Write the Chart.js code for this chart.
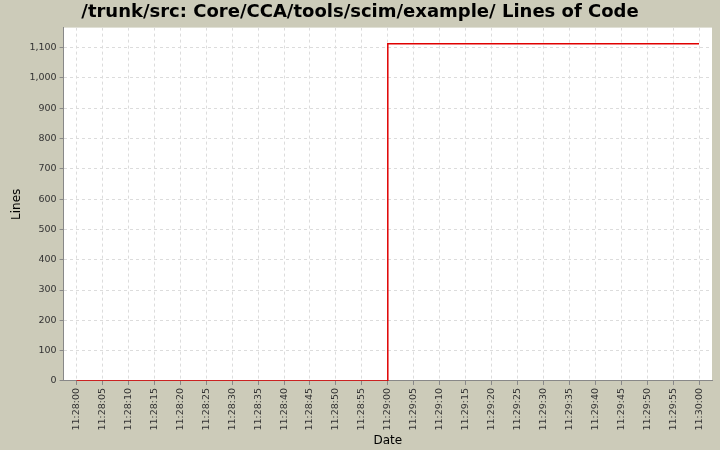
<!DOCTYPE html>
<html>
<head>
<meta charset="utf-8">
<script src="https://cdn.jsdelivr.net/npm/chart.js@4"></script>
<style>
  html, body { margin: 0; padding: 0; background: #cccbb9; }
  #wrap { position: relative; width: 720px; height: 450px; }
</style>
</head>
<body>
<div id="wrap"><canvas id="locChart" width="720" height="450"></canvas></div>
<script>
// seconds after 11:28:00
const times = [0, 60, 60, 120];
const lines = [0, 0, 1113, 1113];
const tickSeconds = [0, 5, 10, 15, 20, 25, 30, 35, 40, 45, 50, 55, 60, 65, 70, 75, 80, 85, 90, 95, 100, 105, 110, 115, 120];

function fmtTime(s) {
    const m = 28 + Math.floor(s / 60);
    const sec = s % 60;
    return "11:" + m + ":" + String(sec).padStart(2, "0");
}

const plotBg = {
    id: "plotBg",
    beforeDraw(chart) {
        const a = chart.chartArea, c = chart.ctx;
        c.save();
        c.fillStyle = "#ffffff";
        c.fillRect(a.left, a.top, a.right - a.left, a.bottom - a.top);
        c.restore();
    }
};

new Chart(document.getElementById("locChart").getContext("2d"), {
    type: "line",
    data: {
        datasets: [{
            data: times.map((t, i) => ({ x: t, y: lines[i] })),
            borderColor: "#e00000",
            borderWidth: 1.5,
            pointRadius: 0,
            fill: false,
            tension: 0
        }]
    },
    options: {
        animation: false,
        responsive: false,
        layout: { padding: { left: 8, right: 8, top: 0, bottom: 2 } },
        plugins: {
            legend: { display: false },
            title: {
                display: true,
                text: "/trunk/src: Core/CCA/tools/scim/example/ Lines of Code",
                color: "#000",
                font: { family: "DejaVu Sans", size: 18, weight: "bold" },
                padding: { top: 2, bottom: 4 }
            }
        },
        scales: {
            x: {
                type: "linear",
                min: -2.5,
                max: 122.5,
                afterBuildTicks: axis => { axis.ticks = tickSeconds.map(v => ({ value: v })); },
                ticks: {
                    autoSkip: false,
                    maxRotation: 90,
                    minRotation: 90,
                    color: "#333",
                    font: { family: "DejaVu Sans", size: 9.5 },
                    callback: v => fmtTime(v)
                },
                grid: { color: "#dcdcdc", tickColor: "#888", tickLength: 4 },
                border: { color: "#888", dash: [3, 3] },
                title: { display: true, text: "Date", color: "#000", font: { family: "DejaVu Sans", size: 12 }, padding: 0 }
            },
            y: {
                min: 0,
                max: 1166,
                afterBuildTicks: axis => { axis.ticks = [0,100,200,300,400,500,600,700,800,900,1000,1100].map(v => ({ value: v })); },
                ticks: {
                    color: "#333",
                    font: { family: "DejaVu Sans", size: 9.5 },
                    callback: v => v.toLocaleString("en-US")
                },
                grid: { color: "#dcdcdc", tickColor: "#888", tickLength: 4 },
                border: { color: "#888", dash: [3, 3] },
                title: { display: true, text: "Lines", color: "#000", font: { family: "DejaVu Sans", size: 12 }, padding: 2 }
            }
        }
    },
    plugins: [plotBg]
});
</script>
</body>
</html>
